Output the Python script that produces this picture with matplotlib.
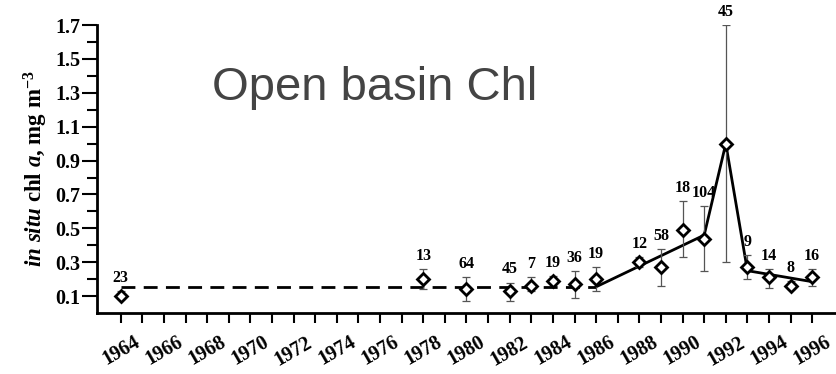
import matplotlib

matplotlib.use("Agg")
import matplotlib.pyplot as plt
import numpy as np

years = [1964, 1978, 1980, 1982, 1983, 1984, 1985, 1986, 1988, 1989, 1990, 1991, 1992, 1993, 1994, 1995, 1996]
chl = [0.10, 0.20, 0.14, 0.13, 0.16, 0.19, 0.17, 0.20, 0.30, 0.27, 0.49, 0.44, 1.00, 0.27, 0.21, 0.16, 0.21]
err_hi = [0.13, 0.26, 0.21, 0.18, 0.21, 0.22, 0.25, 0.27, 0.33, 0.38, 0.66, 0.63, 1.70, 0.34, 0.26, 0.19, 0.26]
err_lo = [0.08, 0.14, 0.07, 0.07, 0.13, 0.18, 0.09, 0.13, 0.27, 0.16, 0.33, 0.25, 0.30, 0.20, 0.15, 0.14, 0.16]
counts = ["23", "13", "64", "45", "7", "19", "36", "19", "12", "58", "18", "104", "45", "9", "14", "8", "16"]

dash_x = [1964, 1986]
dash_y = [0.155, 0.155]
trend_x = [1986, 1991, 1992, 1993, 1996]
trend_y = [0.155, 0.46, 1.0, 0.25, 0.185]

plt.rcParams["mathtext.fontset"] = "custom"
plt.rcParams["mathtext.rm"] = "Liberation Serif:bold"
plt.rcParams["mathtext.it"] = "Liberation Serif:italic:bold"
serif = {"family": "Liberation Serif", "weight": "bold"}

fig = plt.figure(figsize=(8.36, 3.74), dpi=100)
ax = fig.add_axes([0.116, 0.163, 0.884, 0.77])

ax.plot(dash_x, dash_y, color="black", lw=2, ls=(0, (5, 3)))
ax.plot(trend_x, trend_y, color="black", lw=2)

yarr = np.array(chl)
yerr = [yarr - np.array(err_lo), np.array(err_hi) - yarr]
ax.errorbar(years, chl, yerr=yerr, fmt="none", ecolor="#555555", elinewidth=0.9, capsize=3, capthick=0.9)
ax.plot(years, chl, ls="none", marker="D", ms=6, mfc="white", mec="black", mew=2)

for x, hi, c in zip(years, err_hi, counts):
    ax.text(x, hi + 0.03, c, ha="center", va="bottom", fontsize=11.5, clip_on=False, **serif)

ax.set_xlim(1962.9, 1997.1)
ax.set_ylim(0, 1.7)
ax.set_xticks(range(1964, 1997))
ax.set_xticklabels([str(y) if y % 2 == 0 else "" for y in range(1964, 1997)],
                   rotation=30, ha="center", fontsize=14.5, fontdict=serif)
major_y = np.round(np.arange(0.1, 1.71, 0.2), 1)
minor_y = np.round(np.arange(0.2, 1.61, 0.2), 1)
ax.set_yticks(major_y)
ax.set_yticks(minor_y, minor=True)
ax.set_yticklabels([f"{v:.1f}" for v in major_y], fontsize=14.5, fontdict=serif)
ax.tick_params(axis="x", direction="out", length=7, width=1.5, pad=7)
ax.tick_params(axis="y", which="major", direction="out", length=11, width=1.5, pad=1)
ax.tick_params(axis="y", which="minor", direction="out", length=7, width=1.5)

for s in ("top", "right"):
    ax.spines[s].set_visible(False)
for s in ("left", "bottom"):
    ax.spines[s].set_linewidth(2)

ax.set_ylabel(r"$\mathit{in\ situ}$ chl $\mathit{a}$, mg m$^{-3}$", fontsize=16.5, fontdict=serif, labelpad=4)

ax.text(0.156, 0.78, "Open basin Chl", transform=ax.transAxes, fontsize=34,
        family="Liberation Sans", color="#444444", ha="left", va="center")

fig.savefig("out.png", dpi=100)
